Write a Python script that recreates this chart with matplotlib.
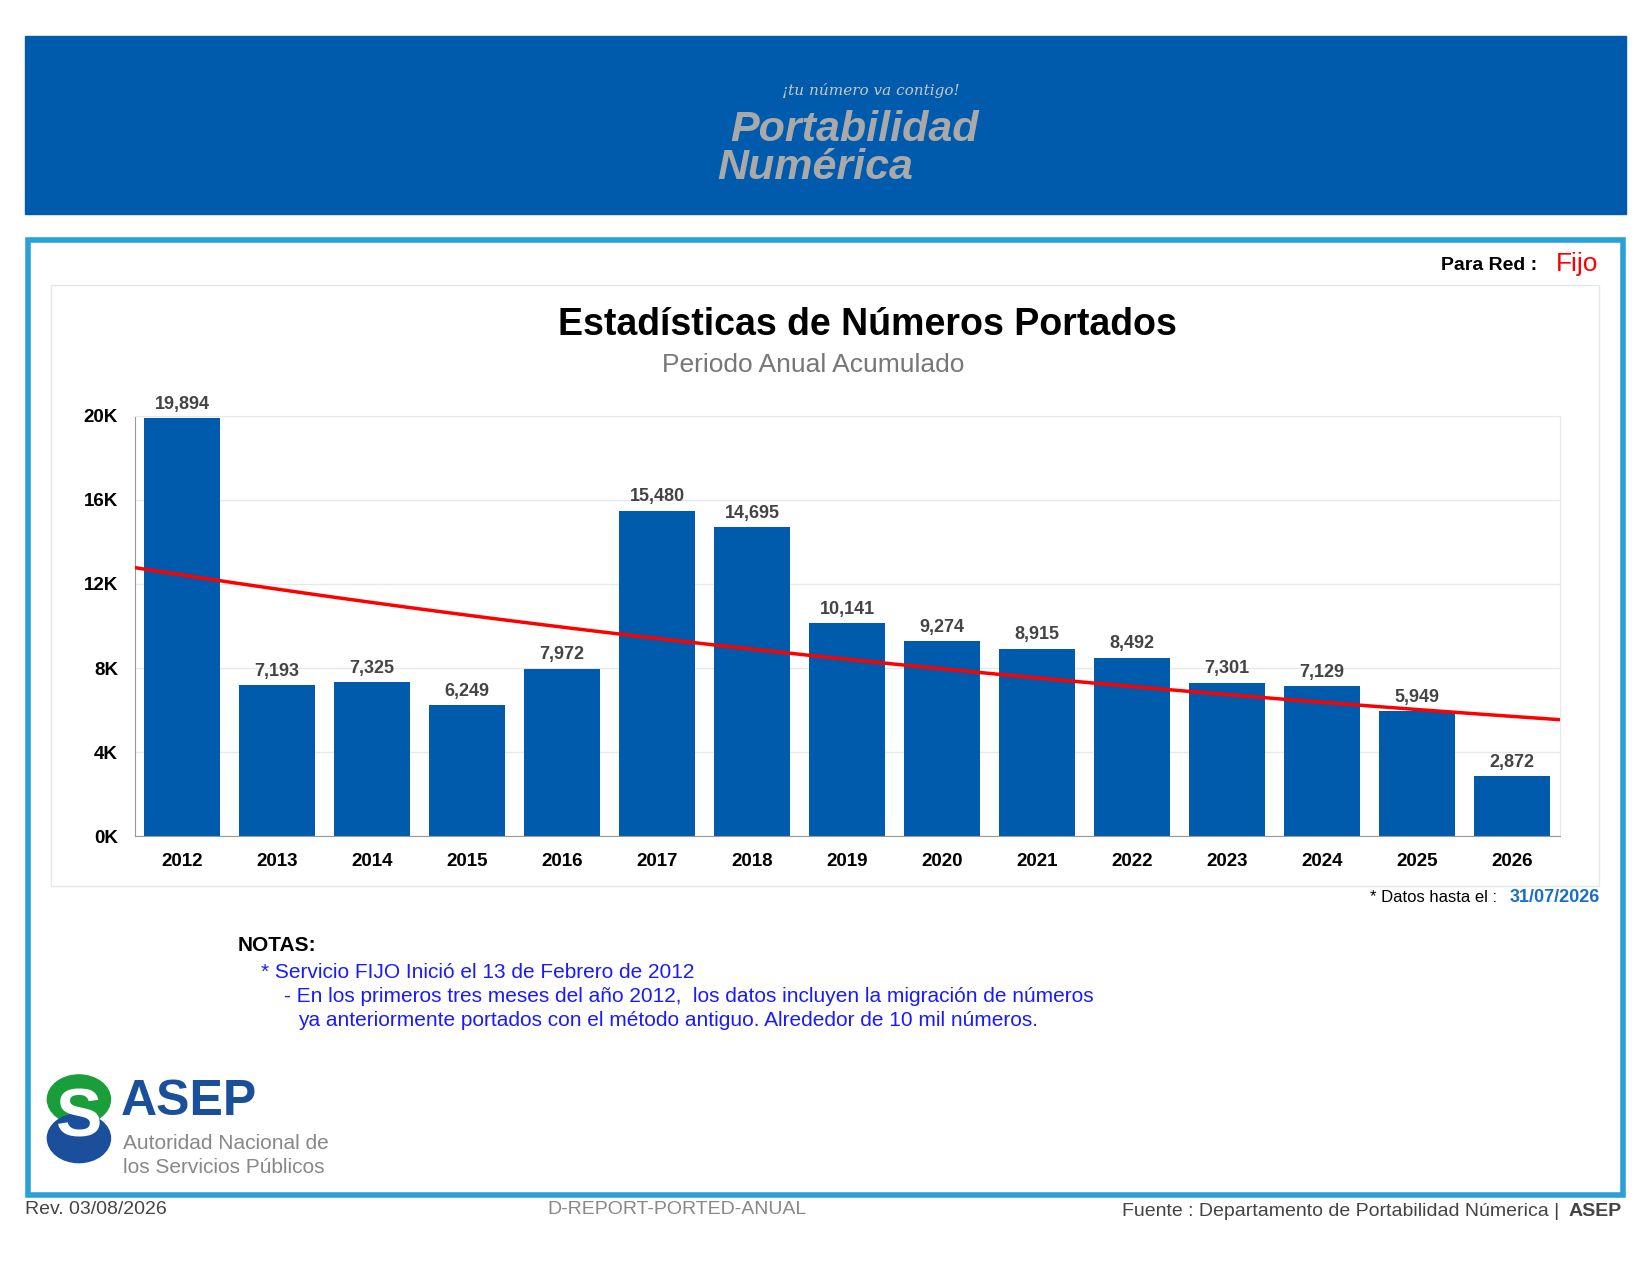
import numpy as np
import matplotlib.pyplot as plt
from matplotlib.patches import Rectangle, Circle
from matplotlib.ticker import FuncFormatter

plt.rcParams['font.family'] = ['Liberation Sans', 'DejaVu Sans']

years = list(range(2012, 2027))
vals = [19894, 7193, 7325, 6249, 7972, 15480, 14695, 10141, 9274, 8915, 8492, 7301, 7129, 5949, 2872]

W, H = 1568.0, 1212.0
def fx(x): return x / W
def fy(y): return 1 - y / H

fig = plt.figure(figsize=(16.5, 12.75), dpi=100)
blue = '#005BAC'

# header band
fig.patches.append(Rectangle((fx(24), fy(203)), fx(1545) - fx(24), fy(34) - fy(203),
                             transform=fig.transFigure, color=blue, zorder=0))
fig.text(fx(828), fy(86), '¡tu número va contigo!', color='#c8c8c8', fontsize=11, family='DejaVu Serif',
         ha='center', va='center', style='italic')
fig.text(fx(812), fy(124), 'Portabilidad', color='#a9a9a9', fontsize=31, fontweight='bold', style='italic',
         ha='center', va='center')
fig.text(fx(775), fy(160), 'Numérica', color='#a9a9a9', fontsize=31, fontweight='bold', style='italic',
         ha='center', va='center')

# outer box
fig.patches.append(Rectangle((fx(27), fy(1136)), fx(1542) - fx(27), fy(228) - fy(1136),
                             transform=fig.transFigure, fill=False, ec='#2A9FD8', lw=4, zorder=0))
# inner panel
fig.patches.append(Rectangle((fx(48), fy(842)), fx(1520) - fx(48), fy(271) - fy(842),
                             transform=fig.transFigure, fill=False, ec='#e6e6e6', lw=1, zorder=0))

fig.text(fx(1466), fy(252), 'Para Red : ', fontsize=14, fontweight='bold', ha='right', va='center')
fig.text(fx(1479), fy(251), 'Fijo', fontsize=19, color='red', ha='left', va='center')

fig.text(fx(824), fy(309), 'Estadísticas de Números Portados', fontsize=27, fontweight='bold',
         ha='center', va='center')
fig.text(fx(773), fy(347), 'Periodo Anual Acumulado', fontsize=19, color='#777777', ha='center', va='center')

ax = fig.add_axes([fx(128), fy(795), fx(1482) - fx(128), fy(395) - fy(795)])
x = np.arange(len(years))
ax.bar(x, vals, width=0.8, color=blue, zorder=2)
for xi, v in zip(x, vals):
    ax.text(xi, v + 250, f'{v:,}', ha='center', va='bottom', fontsize=13, fontweight='bold', color='#444444')
ax.set_xlim(-0.5, len(years) - 0.5)
ax.set_ylim(0, 20000)
ax.set_yticks(range(0, 20001, 4000))
ax.yaxis.set_major_formatter(FuncFormatter(lambda v, p: f'{int(v/1000)}K'))
ax.set_xticks(x)
ax.set_xticklabels(years)
ax.tick_params(length=0, labelsize=13.5, pad=12)
for lab in ax.get_xticklabels() + ax.get_yticklabels():
    lab.set_fontweight('bold')
ax.grid(axis='y', color='#e8e8e8', lw=1, zorder=0)
for s in ['top', 'right']:
    ax.spines[s].set_color('#e8e8e8')
ax.spines['left'].set_color('#999999')
ax.spines['bottom'].set_color('#999999')

# exponential trend line
m, b = np.polyfit(x, np.log(vals), 1)
xl = np.linspace(-0.5, len(years) - 0.5, 100)
ax.plot(xl, np.exp(m * xl + b), color='red', lw=2.5, zorder=3)

fig.text(fx(1427), fy(853), '* Datos hasta el : ', fontsize=12, ha='right', va='center')
fig.text(fx(1520), fy(853), '31/07/2026', fontsize=13, fontweight='bold', color='#1a6fc4', ha='right', va='center')

fig.text(fx(226), fy(899), 'NOTAS:', fontsize=15, fontweight='bold', va='center')
nb = '#1a1aff'
fig.text(fx(248), fy(924), '* Servicio FIJO Inició el 13 de Febrero de 2012', fontsize=15, color=nb, va='center')
fig.text(fx(270), fy(947), '- En los primeros tres meses del año 2012,  los datos incluyen la migración de números',
         fontsize=15, color=nb, va='center')
fig.text(fx(283), fy(970), 'ya anteriormente portados con el método antiguo. Alrededor de 10 mil números.',
         fontsize=15, color=nb, va='center')

# ASEP logo
fig.patches.append(Circle((fx(75), fy(1045)), fx(30), transform=fig.transFigure, color='#1a9e3a', zorder=1))
fig.patches.append(Circle((fx(75), fy(1082)), fx(30), transform=fig.transFigure, color='#1a4f9c', zorder=1))
fig.text(fx(75), fy(1063), 'S', fontsize=50, fontweight='bold', color='white', ha='center', va='center')
fig.text(fx(115), fy(1048), 'ASEP', fontsize=36, fontweight='bold', color='#1a4f9c', va='center')
fig.text(fx(117), fy(1087), 'Autoridad Nacional de', fontsize=15, color='#888888', va='center')
fig.text(fx(117), fy(1110), 'los Servicios Públicos', fontsize=15, color='#888888', va='center')

fig.text(fx(24), fy(1150), 'Rev. 03/08/2026', fontsize=14, color='#444444', va='center')
fig.text(fx(643), fy(1150), 'D-REPORT-PORTED-ANUAL', fontsize=14, color='#888888', ha='center', va='center')
fig.text(fx(1487), fy(1152), 'Fuente : Departamento de Portabilidad Númerica | ', fontsize=14, color='#444444',
         ha='right', va='center')
fig.text(fx(1541), fy(1152), 'ASEP', fontsize=14, fontweight='bold', color='#444444', ha='right', va='center')

fig.savefig('out.png', dpi=100)
